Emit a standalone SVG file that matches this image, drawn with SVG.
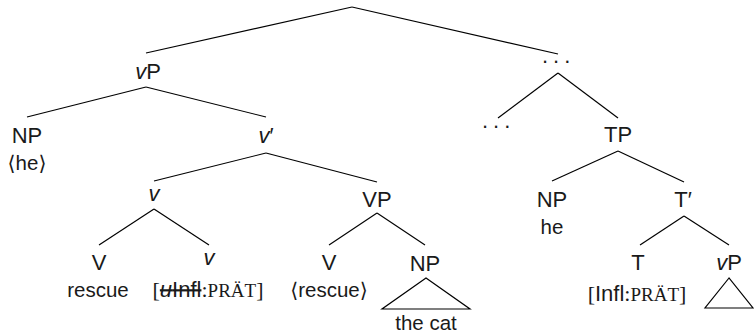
<svg xmlns="http://www.w3.org/2000/svg" width="754" height="336" viewBox="0 0 754 336">
<style>
text{font-family:"Liberation Sans","DejaVu Sans",sans-serif;font-size:22px;fill:#1a1a1a;text-anchor:middle}
.lw{font-size:20.5px}
.it{font-style:italic}
.rm{font-family:"Liberation Serif","DejaVu Serif",serif}
.sc{font-family:"Liberation Serif","DejaVu Serif",serif;font-size:19px}
.dots{text-anchor:start;letter-spacing:5px}
.e line,.e polygon{stroke:#000;stroke-width:1.2;fill:none}
</style>
<rect width="754" height="336" fill="#fff"/>
<g id="connectors" class="e">
<line x1="352" y1="7" x2="146" y2="53"/>
<line x1="352" y1="7" x2="558" y2="54"/>
<line x1="146" y1="87" x2="27" y2="117"/>
<line x1="146" y1="87" x2="266" y2="117"/>
<line x1="266" y1="153" x2="154" y2="181"/>
<line x1="266" y1="153" x2="377" y2="182"/>
<line x1="154" y1="209" x2="99" y2="245"/>
<line x1="154" y1="209" x2="209" y2="245"/>
<line x1="377" y1="213" x2="329" y2="245"/>
<line x1="377" y1="213" x2="425" y2="245"/>
<line x1="558" y1="73" x2="498" y2="118"/>
<line x1="558" y1="73" x2="618" y2="118"/>
<line x1="618" y1="151" x2="552" y2="181"/>
<line x1="618" y1="151" x2="684" y2="182"/>
<line x1="684" y1="216" x2="640" y2="245"/>
<line x1="684" y1="216" x2="729" y2="245"/>
<polygon points="426,278 382,309 470,309"/>
<polygon points="729,278 705,308 753,308"/>
</g>
<g id="vP1"><text x="148" y="79"><tspan class="it">v</tspan>P</text></g>
<g id="dots1"><text class="dots" x="542" y="63">...</text></g>
<g id="NP1"><text x="27" y="143">NP</text><text class="lw" x="27" y="170">⟨he⟩</text></g>
<g id="vbar"><text x="266" y="143"><tspan class="it">v</tspan>′</text></g>
<g id="dots2"><text class="dots" x="482" y="128">...</text></g>
<g id="TP"><text x="618" y="142">TP</text></g>
<g id="v1"><text class="it" x="154" y="201">v</text></g>
<g id="VP"><text x="377" y="207">VP</text></g>
<g id="NP2"><text x="552" y="207">NP</text><text class="lw" x="552" y="234">he</text></g>
<g id="Tbar"><text x="683" y="207">T′</text></g>
<g id="V1"><text x="99" y="270">V</text><text class="lw" x="98" y="297">rescue</text></g>
<g id="v2"><text class="it" x="209" y="265">v</text><text x="208" y="297"><tspan class="rm">[</tspan><tspan text-decoration="line-through"><tspan class="it">u</tspan>Infl</tspan><tspan class="rm">:</tspan><tspan class="sc">PRÄT</tspan><tspan class="rm">]</tspan></text></g>
<g id="V2"><text x="329" y="270">V</text><text class="lw" x="329" y="297">⟨rescue⟩</text></g>
<g id="NP3"><text x="425" y="271">NP</text><text class="lw" x="426" y="330">the cat</text></g>
<g id="T"><text x="638" y="270">T</text><text x="637" y="301"><tspan class="rm">[</tspan>Infl<tspan class="rm">:</tspan><tspan class="sc">PRÄT</tspan><tspan class="rm">]</tspan></text></g>
<g id="vP2"><text x="729" y="270"><tspan class="it">v</tspan>P</text></g>
</svg>
